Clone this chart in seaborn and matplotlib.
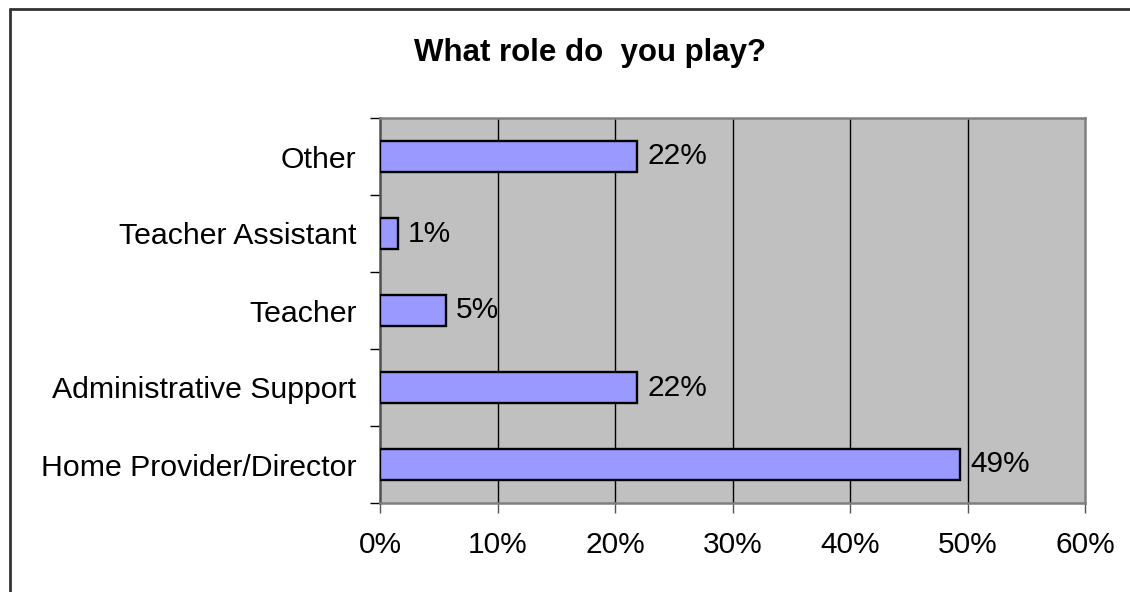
import numpy as np
import pandas as pd
import matplotlib
matplotlib.use("Agg")
import matplotlib.pyplot as plt
from matplotlib.lines import Line2D
from matplotlib.ticker import FixedLocator, PercentFormatter
import seaborn as sns

#---------------------------------------------------
#   data
#---------------------------------------------------
roles = ["Other", "Teacher Assistant", "Teacher",
         "Administrative Support", "Home Provider/Director"]
share = [21.9, 1.5, 5.6, 21.9, 49.4]
share_labels = ["22%", "1%", "5%", "22%", "49%"]
x_ticks = [0, 10, 20, 30, 40, 50, 60]

df = pd.DataFrame({"role": roles, "share": share})

sns.set_theme(style="white")
plt.rcParams["font.family"] = ["Liberation Sans", "DejaVu Sans"]
plt.rcParams["text.color"] = "black"
plt.rcParams["xtick.color"] = "black"
plt.rcParams["ytick.color"] = "black"

fig = plt.figure(figsize=(11.3, 5.92), dpi=100)
ax = fig.add_axes([380 / 1130, 1 - 503 / 592, 705 / 1130, 385 / 592])
ax.set_facecolor("#C0C0C0")

sns.barplot(data=df, x="share", y="role", order=roles, orient="h",
            color="#9999FF", saturation=1, width=0.415,
            edgecolor="black", linewidth=1.7, ax=ax, zorder=3)

# vertical gridlines
ax.set_xlim(0, 60)
ax.xaxis.set_major_locator(FixedLocator(x_ticks))
ax.xaxis.set_major_formatter(PercentFormatter(decimals=0))
for v in x_ticks[1:-1]:
    ax.axvline(v, color="black", lw=1.0, zorder=1)

for c in ax.containers:
    ax.bar_label(c, labels=share_labels, padding=7, fontsize=21.5, color="black")

ax.set_xlabel("")
ax.set_ylabel("")

# ticks: y ticks at category boundaries like excel
ax.set_ylim(4.5, -0.5)
ax.yaxis.set_minor_locator(FixedLocator(np.arange(-0.5, 5, 1)))
ax.tick_params(axis="y", which="major", length=0, pad=17, labelsize=21.8,
               labelcolor="black")
ax.tick_params(axis="y", which="minor", length=7, width=1, color="black", left=True)
ax.tick_params(axis="x", which="major", length=7, width=1, color="#555555",
               bottom=True, pad=13, labelsize=21.5, labelcolor="black")

for s in ax.spines.values():
    s.set_visible(True)
    s.set_color("#808080")
    s.set_linewidth(1.8)
ax.spines["left"].set_color("#505050")

fig.text(0.522, 1 - 53 / 592, "What role do  you play?", ha="center",
         va="center", fontsize=22.5, fontweight="bold", color="black")

# outer chart frame (left and top visible)
fig.add_artist(Line2D([10 / 1130, 10 / 1130], [0, 1 - 9 / 592],
                      transform=fig.transFigure, color="#333333", lw=2))
fig.add_artist(Line2D([10 / 1130, 1], [1 - 9 / 592, 1 - 9 / 592],
                      transform=fig.transFigure, color="#333333", lw=2))

fig.savefig("out.png", dpi=100, facecolor="white")
